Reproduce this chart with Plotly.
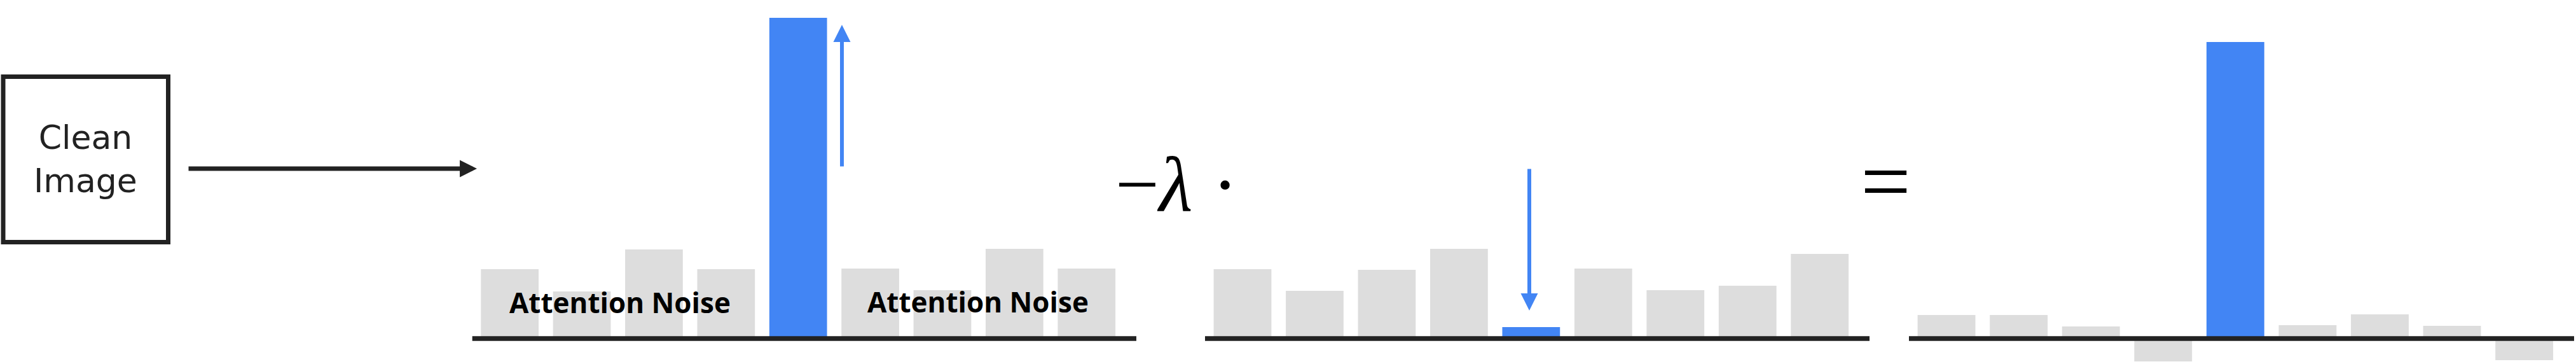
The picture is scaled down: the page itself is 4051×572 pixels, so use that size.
import plotly.graph_objects as go

W, H = 4051, 572

# ---- data ----
token_positions = [0, 1, 2, 3, 4, 5, 6, 7, 8]
highlight_index = 4
clean_attention = [1.09, 0.74, 1.40, 1.09, 5.04, 1.10, 0.76, 1.41, 1.10]
noise_attention = [1.09, 0.75, 1.08, 1.41, 0.18, 1.10, 0.76, 0.83, 1.33]
result_attention = [0.37, 0.37, 0.19, -0.36, 4.66, 0.21, 0.38, 0.20, -0.34]
noise_label = "Attention Noise"
input_label = "Clean<br>Image"

GRAY = "#DDDDDD"
BLUE = "#4285F4"
DARK = "#222222"


def px(x):
    return x / W


def py(y):
    return 1 - y / H


bar_colors = [BLUE if i == highlight_index else GRAY for i in token_positions]

fig = go.Figure()
series = [clean_attention, noise_attention, result_attention]
axis_ids = ["x", "x2", "x3"]
for vals, xa in zip(series, axis_ids):
    fig.add_trace(go.Bar(
        x=token_positions, y=vals, xaxis=xa, yaxis="y",
        marker=dict(color=bar_colors, line=dict(width=0)),
        showlegend=False, hoverinfo="skip",
    ))

domains = [[px(742.7), px(1787)], [px(1895), px(2940)], [px(3002), px(4048)]]
xr = [-0.52, 8.69]
common_x = dict(range=xr, visible=False, fixedrange=True)
fig.update_layout(
    xaxis=dict(domain=domains[0], anchor="y", **common_x),
    xaxis2=dict(domain=domains[1], anchor="y", **common_x),
    xaxis3=dict(domain=domains[2], anchor="y", **common_x),
    yaxis=dict(domain=[0, 1], range=[-0.40, 5.32], visible=False, fixedrange=True),
)

shapes = []
for xa in axis_ids:
    shapes.append(dict(type="line", xref=f"{xa} domain", yref="y",
                       x0=0, x1=1, y0=0, y1=0,
                       line=dict(color=DARK, width=7.5), layer="above"))
# input box
shapes.append(dict(type="rect", xref="paper", yref="paper",
                   x0=px(5), x1=px(264.5), y0=py(380.5), y1=py(120.5),
                   line=dict(color=DARK, width=7), fillcolor="rgba(0,0,0,0)"))

annotations = []
# input box text
annotations.append(dict(text=input_label, x=px(134), y=py(250), xref="paper", yref="paper",
                        showarrow=False, xanchor="center", yanchor="middle",
                        font=dict(family="DejaVu Sans", size=52, color="#222222")))
# black arrow
annotations.append(dict(text="", x=px(750), y=py(265), xref="paper", yref="paper",
                        showarrow=True, ax=-455, ay=0, arrowhead=2, arrowsize=0.77,
                        arrowwidth=7, arrowcolor=DARK, standoff=0))
# blue arrows
annotations.append(dict(text="", x=px(1324), y=py(39), xref="paper", yref="paper",
                        showarrow=True, ax=0, ay=224, arrowhead=2, arrowsize=0.9,
                        arrowwidth=6, arrowcolor=BLUE, standoff=0))
annotations.append(dict(text="", x=px(2405), y=py(488), xref="paper", yref="paper",
                        showarrow=True, ax=0, ay=-224, arrowhead=2, arrowsize=0.9,
                        arrowwidth=6, arrowcolor=BLUE, standoff=0))
# noise labels
for cx, cy in [(975, 475), (1538, 473.5)]:
    annotations.append(dict(text=f"<b>{noise_label}</b>", x=px(cx), y=py(cy),
                            xref="paper", yref="paper", showarrow=False,
                            xanchor="center", yanchor="middle",
                            font=dict(family="Open Sans", size=44, color="#000000")))
# operators
serif = "Liberation Serif"
annotations.append(dict(text="\u2212<i>\u03bb</i> \u00b7", x=px(1850), y=py(289),
                        xref="paper", yref="paper", showarrow=False,
                        xanchor="center", yanchor="middle",
                        font=dict(family=serif, size=122, color="#000000")))
annotations.append(dict(text="=", x=px(2965), y=py(284),
                        xref="paper", yref="paper", showarrow=False,
                        xanchor="center", yanchor="middle",
                        font=dict(family=serif, size=140, color="#000000")))

fig.update_layout(
    width=W, height=H,
    margin=dict(l=0, r=0, t=0, b=0),
    paper_bgcolor="white", plot_bgcolor="white",
    bargap=0.2, barmode="overlay",
    shapes=shapes, annotations=annotations,
)

fig.write_html(
    "out.html",
    config={"displayModeBar": False, "staticPlot": True},
    post_script="document.body.style.margin='0px';document.body.style.overflow='hidden';",
)
